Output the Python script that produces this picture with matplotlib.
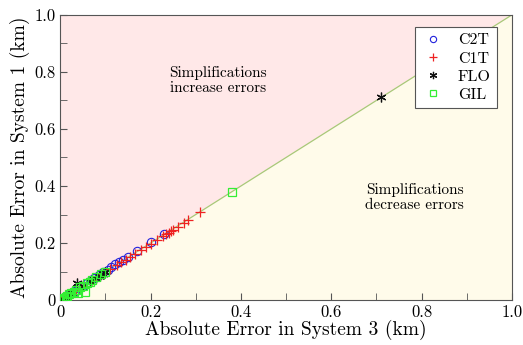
import matplotlib
matplotlib.use('Agg')
import matplotlib.pyplot as plt
import numpy as np

plt.rcParams['font.family'] = 'serif'
plt.rcParams['font.serif'] = ['cmr10', 'DejaVu Serif']
plt.rcParams['axes.formatter.use_mathtext'] = True
plt.rcParams['mathtext.fontset'] = 'cm'

# errors (km): system 3 on x, system 1 on y
c2t_x = [0.004, 0.008, 0.012, 0.018, 0.025, 0.032, 0.04, 0.05, 0.06, 0.068, 0.075, 0.085, 0.095, 0.105, 0.113, 0.122, 0.13, 0.14, 0.15, 0.17, 0.2, 0.23]
c2t_y = [0.004, 0.009, 0.013, 0.018, 0.026, 0.033, 0.041, 0.05, 0.061, 0.07, 0.077, 0.087, 0.097, 0.107, 0.115, 0.125, 0.132, 0.142, 0.152, 0.172, 0.203, 0.232]
c1t_x = [0.01, 0.02, 0.035, 0.05, 0.07, 0.09, 0.11, 0.125, 0.135, 0.145, 0.155, 0.165, 0.18, 0.19, 0.2, 0.215, 0.228, 0.235, 0.24, 0.245, 0.25, 0.26, 0.275, 0.282, 0.31]
c1t_y = [0.01, 0.02, 0.035, 0.05, 0.07, 0.09, 0.11, 0.122, 0.132, 0.142, 0.15, 0.16, 0.177, 0.186, 0.196, 0.21, 0.224, 0.231, 0.236, 0.241, 0.246, 0.256, 0.272, 0.28, 0.308]
flo_x = [0.004, 0.01, 0.018, 0.026, 0.038, 0.05, 0.065, 0.08, 0.088, 0.095, 0.1, 0.71]
flo_y = [0.004, 0.011, 0.019, 0.027, 0.06, 0.05, 0.066, 0.079, 0.085, 0.09, 0.1, 0.712]
gil_x = [0.0, 0.004, 0.008, 0.012, 0.016, 0.02, 0.025, 0.03, 0.035, 0.04, 0.045, 0.05, 0.055, 0.06, 0.065, 0.07, 0.08, 0.09, 0.1, 0.38]
gil_y = [0.0, 0.004, 0.008, 0.012, 0.016, 0.02, 0.025, 0.03, 0.035, 0.025, 0.045, 0.05, 0.03, 0.06, 0.065, 0.07, 0.08, 0.09, 0.1, 0.378]

tick_vals = [0, 0.2, 0.4, 0.6, 0.8, 1.0]
tick_labels = ['0', '0.2', '0.4', '0.6', '0.8', '1.0']

fig = plt.figure(figsize=(5.23, 3.45), dpi=100)
ax = fig.add_axes([0.115, 0.13, 0.864, 0.827])

ax.fill([0, 0, 1], [0, 1, 1], color='#ffe8e8', zorder=0, lw=0)
ax.fill([0, 1, 1], [0, 0, 1], color='#fffbea', zorder=0, lw=0)
ax.plot([0, 1], [0, 1], color='#a8c878', lw=0.9, zorder=1)

ax.plot(c2t_x, c2t_y, 'o', mfc='none', mec='#2222dd', ms=6, mew=0.8, label='C2T', zorder=3)
ax.plot(c1t_x, c1t_y, '+', color='#ee2222', ms=7, mew=0.9, label='C1T', zorder=3)
ax.plot(flo_x, flo_y, marker=(6, 2, 0), ls='none', color='#111111', ms=7, mew=0.9, label='FLO', zorder=3)
ax.plot(gil_x, gil_y, 's', mfc='none', mec='#33ee33', ms=6, mew=0.9, label='GIL', zorder=3)

ax.set_xlim(0, 1)
ax.set_ylim(0, 1)
ax.set_xticks(tick_vals)
ax.set_xticklabels(tick_labels)
ax.set_yticks(tick_vals)
ax.set_yticklabels(tick_labels)
ax.set_xticks(np.arange(0.1, 1.0, 0.2), minor=True)
ax.set_yticks(np.arange(0.1, 1.0, 0.2), minor=True)
ax.tick_params(which='both', direction='in', labelsize=12, color='#555555', length=5)
for s in ax.spines.values():
    s.set_color('#555555')
    s.set_linewidth(0.8)

ax.set_xlabel('Absolute Error in System 3 (km)', fontsize=14, labelpad=0)
ax.set_ylabel('Absolute Error in System 1 (km)', fontsize=14, labelpad=3)

ax.text(0.35, 0.77, 'Simplifications\nincrease errors', ha='center', va='center', fontsize=11, linespacing=1.1)
ax.text(0.785, 0.36, 'Simplifications\ndecrease errors', ha='center', va='center', fontsize=11, linespacing=1.1)

leg = ax.legend(loc='upper right', bbox_to_anchor=(0.967, 0.958), fontsize=11.5, fancybox=False,
                framealpha=1, edgecolor='#555555', markerscale=0.75,
                handlelength=1.5, borderpad=0.4, labelspacing=0.25, borderaxespad=0)
leg.get_frame().set_linewidth(0.8)

fig.savefig('out.png', dpi=100)
